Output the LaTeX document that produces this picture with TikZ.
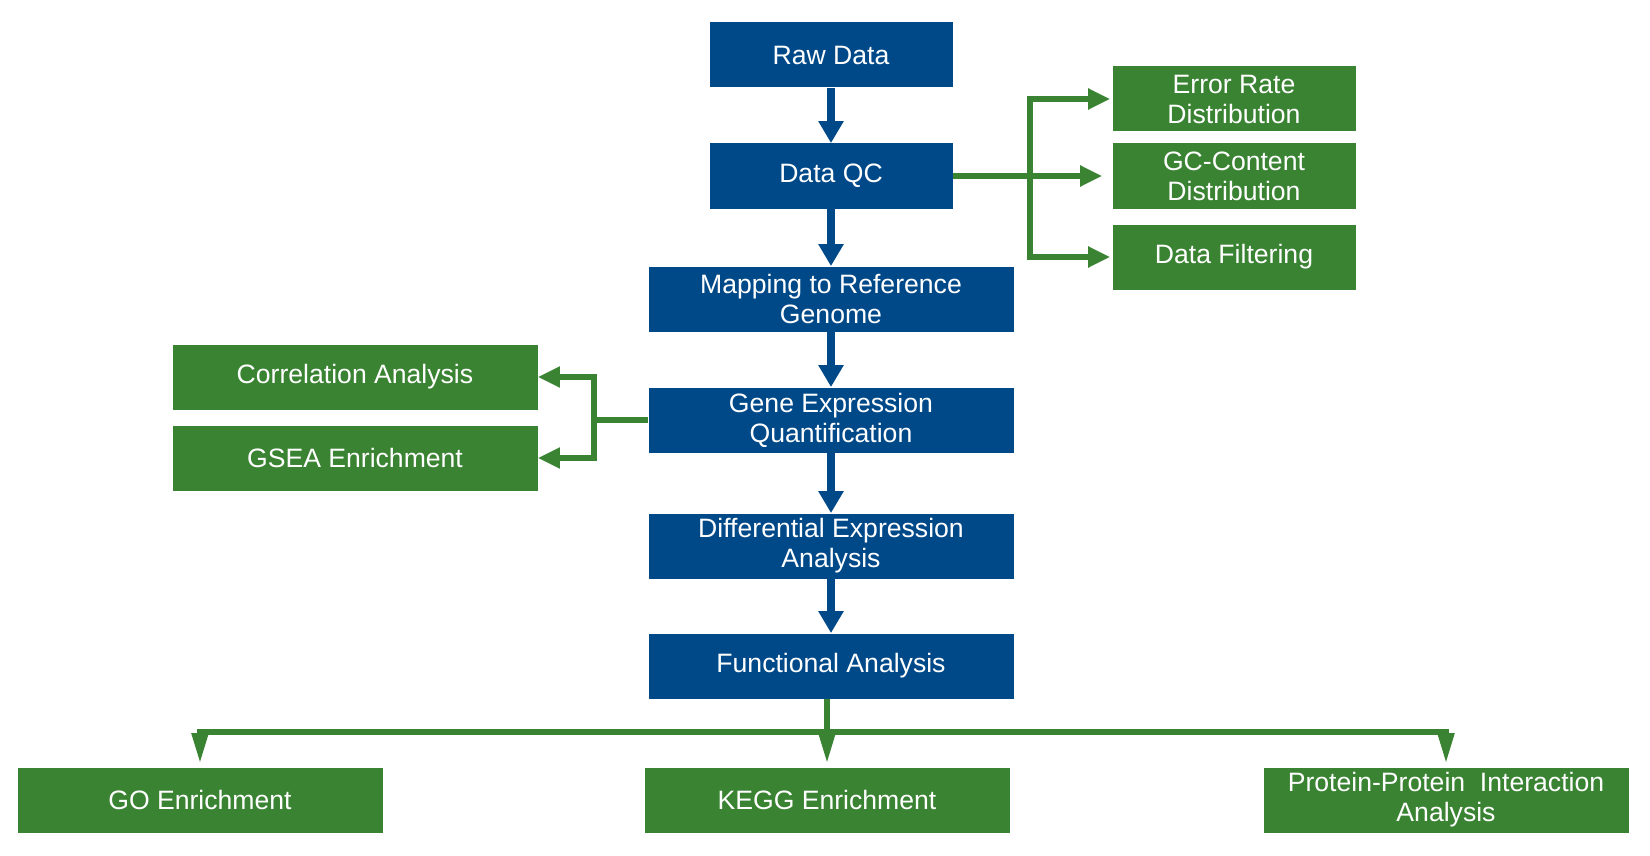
\documentclass[tikz,border=0pt]{standalone}
\usepackage{fontspec}
\setmainfont{Liberation Sans}
\usetikzlibrary{arrows.meta}
\definecolor{qblue}{RGB}{0,73,137}
\definecolor{qgreen}{RGB}{58,131,50}
\begin{document}
\begin{tikzpicture}[x=0.5pt,y=-0.5pt,
  bbox/.style={fill=qblue,text=white,minimum height=32.5pt,inner sep=0pt,align=center,font=\fontsize{13.3}{15}\selectfont},
  gbox/.style={fill=qgreen,text=white,minimum height=32.5pt,inner sep=0pt,align=center,font=\fontsize{13.3}{15}\selectfont},
  narrowbox/.style={minimum width=121.5pt},
  widebox/.style={minimum width=182.5pt},
  barrow/.style={draw=qblue,line width=4.2pt,-{Triangle[length=11pt,width=12pt]}},
  gline/.style={draw=qgreen,line width=2.6pt},
  garrow/.style={gline,-{Triangle[length=11pt,width=10pt]}},
  gdown/.style={gline,-{Triangle[length=15pt,width=8pt]}}]
\useasboundingbox (0,0) rectangle (1650,856);
% blue main chain
\node[bbox,narrowbox] (rd) at (831,55) {Raw Data};
\node[bbox,narrowbox] (qc) at (831,176) {Data QC};
\node[bbox,widebox] (mp) at (831,299) {Mapping to Reference\\Genome};
\node[bbox,widebox] (ge) at (831,420) {Gene Expression\\Quantification};
\node[bbox,widebox] (de) at (831,546) {Differential Expression\\Analysis};
\node[bbox,widebox] (fa) at (831,666) {Functional Analysis};
% right green
\node[gbox,narrowbox] (er) at (1234,99) {Error Rate\\Distribution};
\node[gbox,narrowbox] (gc) at (1234,176) {GC-Content\\Distribution};
\node[gbox,narrowbox] (df) at (1234,257) {Data Filtering};
% left green
\node[gbox,widebox] (ca) at (355,377) {Correlation Analysis};
\node[gbox,widebox] (gs) at (355,458) {GSEA Enrichment};
% bottom green
\node[gbox,widebox] (go) at (200,800) {GO Enrichment};
\node[gbox,widebox] (ke) at (827,800) {KEGG Enrichment};
\node[gbox,widebox] (pp) at (1446,800) {Protein-Protein\ \ Interaction\\Analysis};
% blue arrows
\draw[barrow] (rd) -- (qc);
\draw[barrow] (qc) -- (mp);
\draw[barrow] (mp) -- (ge);
\draw[barrow] (ge) -- (de);
\draw[barrow] (de) -- (fa);
% QC fan
\coordinate (qj) at (1030,176);
\draw[garrow,shorten >=5pt] (qc.east) -- (gc.west);
\draw[garrow,shorten >=1pt] (qj) |- (er.west);
\draw[garrow,shorten >=1pt] (qj) |- (df.west);
% left fan
\coordinate (lj) at (594,420);
\draw[gline] (ge.west) -- (lj);
\draw[garrow] (lj) |- (ca.east);
\draw[garrow] (lj) |- (gs.east);
% bottom fan
\coordinate (bj) at (827,732);
\draw[gline] (fa.south -| bj) -- (bj);
\draw[gdown,shorten >=2pt] (bj) -| (go.north);
\draw[gdown,shorten >=2pt] (bj) -| (pp.north);
\draw[gdown,shorten >=2pt] (bj) -- (ke.north);
\end{tikzpicture}
\end{document}
